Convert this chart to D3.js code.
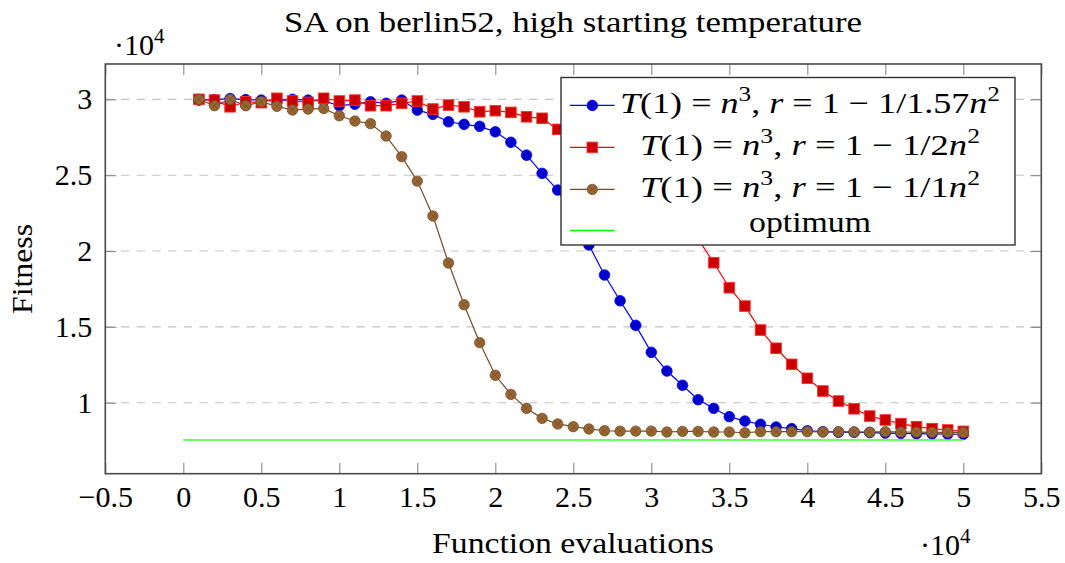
<!DOCTYPE html>
<html>
<head>
<meta charset="utf-8">
<script src="https://cdn.jsdelivr.net/npm/d3@7"></script>
<style>
  html, body { margin: 0; padding: 0; background: #fff; }
  svg { display: block; font-family: "Liberation Serif", "Times New Roman", serif; }
</style>
</head>
<body>
<svg id="chart" width="1065" height="563"></svg>
<script>
// Function evaluations at which fitness was recorded
const evaluations = [
  1000, 2000, 3000, 4000, 5000, 6000, 7000, 8000, 9000, 10000,
  11000, 12000, 13000, 14000, 15000, 16000, 17000, 18000, 19000, 20000,
  21000, 22000, 23000, 24000, 25000, 26000, 27000, 28000, 29000, 30000,
  31000, 32000, 33000, 34000, 35000, 36000, 37000, 38000, 39000, 40000,
  41000, 42000, 43000, 44000, 45000, 46000, 47000, 48000, 49000, 50000
];

// Tour length, cooling r = 1 - 1/1.57n^2
const fitnessR157 = [
  29950, 29980, 30050, 29980, 29950, 29900, 30000, 29950, 29900, 29580,
  29680, 29840, 29740, 29950, 29290, 29010, 28520, 28350, 28220, 27860,
  27170, 26320, 25120, 24020, 22300, 20400, 18420, 16720, 15100, 13320,
  12090, 11150, 10200, 9630, 9080, 8790, 8580, 8400, 8290, 8150,
  8090, 8060, 8050, 8030, 8000, 7980, 7960, 7950, 7930, 7920
];

// Tour length, cooling r = 1 - 1/2n^2
const fitnessR2 = [
  30000, 29950, 29510, 29840, 29780, 30070, 29890, 29800, 30070, 29890,
  29950, 29580, 29580, 29740, 29890, 29360, 29620, 29510, 29180, 29250,
  29140, 28850, 28750, 28020, 27600, 27100, 26500, 25800, 25000, 24000,
  23000, 21900, 20800, 19230, 17580, 16370, 14790, 13590, 12530, 11610,
  10770, 10110, 9600, 9120, 8860, 8620, 8420, 8290, 8200, 8110
];

// Tour length, cooling r = 1 - 1/1n^2
const fitnessR1 = [
  30000, 29580, 30000, 29580, 29840, 29540, 29300, 29360, 29400, 28920,
  28570, 28400, 27580, 26220, 24610, 22310, 19210, 16460, 13960, 11810,
  10550, 9630, 8970, 8600, 8420, 8270, 8150, 8130, 8130, 8130,
  8070, 8110, 8110, 8070, 8070, 8020, 8090, 8090, 8090, 8090,
  8070, 8090, 8080, 8060, 8090, 8070, 8060, 8050, 8050, 8040
];

// Known optimal tour length for berlin52
const optimumFitness = 7542;
const optimumRange = [0, 50000];

const xTickValues = [-5000, 0, 5000, 10000, 15000, 20000, 25000, 30000, 35000, 40000, 45000, 50000, 55000];
const yTickValues = [10000, 15000, 20000, 25000, 30000];

const legendLabels = [
  [["T", "i"], ["(1) = ", ""], ["n", "i"], ["3", "sup"], [", ", ""], ["r", "i"], [" = 1 \u2212 1/1.57", ""], ["n", "i"], ["2", "sup"]],
  [["T", "i"], ["(1) = ", ""], ["n", "i"], ["3", "sup"], [", ", ""], ["r", "i"], [" = 1 \u2212 1/2", ""], ["n", "i"], ["2", "sup"]],
  [["T", "i"], ["(1) = ", ""], ["n", "i"], ["3", "sup"], [", ", ""], ["r", "i"], [" = 1 \u2212 1/1", ""], ["n", "i"], ["2", "sup"]],
  [["optimum", ""]]
];
// typeset widths of the legend entries
const legendWidths = [380, 340, 340, 122];

const svg = d3.select("#chart");
const FS = 30;

const x = d3.scaleLinear().domain([-5000, 55000]).range([105.3, 1041.3]);
const y = d3.scaleLinear().domain([5320, 32330]).range([473.7, 64]);

const fmt = v => {
  const s = d3.format("~g")(v / 10000);
  return s.replace("-", "\u2212");
};

// dashed horizontal grid
svg.append("g")
  .selectAll("line")
  .data(yTickValues)
  .join("line")
  .attr("x1", x.range()[0]).attr("x2", x.range()[1])
  .attr("y1", d => y(d)).attr("y2", d => y(d))
  .attr("stroke", "#c4c4c4").attr("stroke-width", 1.1)
  .attr("stroke-dasharray", "8.3,7.4");

function styleAxis(g, showLabels) {
  g.select(".domain").remove();
  g.selectAll(".tick line").attr("stroke", "#8a8a8a").attr("stroke-width", 1.1);
  g.selectAll(".tick text")
    .attr("fill", "#000")
    .attr("font-size", FS)
    .attr("font-family", "Liberation Serif, serif");
  if (!showLabels) g.selectAll(".tick text").remove();
}

const T = 11;
svg.append("g").attr("transform", `translate(0,${y.range()[0]})`)
  .call(d3.axisBottom(x).tickValues(xTickValues).tickSize(-T).tickPadding(12).tickFormat(fmt))
  .call(g => styleAxis(g, true));
svg.append("g").attr("transform", `translate(0,${y.range()[1]})`)
  .call(d3.axisTop(x).tickValues(xTickValues).tickSize(-T).tickFormat(""))
  .call(g => styleAxis(g, false));
svg.append("g").attr("transform", `translate(${x.range()[0]},0)`)
  .call(d3.axisLeft(y).tickValues(yTickValues).tickSize(-T).tickPadding(13).tickFormat(fmt))
  .call(g => styleAxis(g, true));
svg.append("g").attr("transform", `translate(${x.range()[1]},0)`)
  .call(d3.axisRight(y).tickValues(yTickValues).tickSize(-T).tickFormat(""))
  .call(g => styleAxis(g, false));

// series
const series = [
  { values: fitnessR157, line: "#0000ff", fill: "#0000cc", stroke: "#0000ff", mark: "circle" },
  { values: fitnessR2,   line: "#ff0000", fill: "#cc0000", stroke: "#ff3030", mark: "square" },
  { values: fitnessR1,   line: "#734d26", fill: "#996633", stroke: "#734d26", mark: "otimes" }
];

const lineGen = d3.line().x(d => x(d[0])).y(d => y(d[1]));

function drawMark(g, type, fill, stroke) {
  if (type === "circle") {
    g.append("circle").attr("r", 5.3).attr("fill", fill).attr("stroke", stroke).attr("stroke-width", 0.8);
  } else if (type === "square") {
    g.append("rect").attr("x", -5.3).attr("y", -5.3).attr("width", 10.6).attr("height", 10.6)
      .attr("fill", fill).attr("stroke", stroke).attr("stroke-width", 0.9);
  } else {
    const r = 5.2, k = r * Math.SQRT1_2;
    g.append("circle").attr("r", r).attr("fill", fill).attr("stroke", stroke).attr("stroke-width", 0.8);
    g.append("path").attr("d", `M${-k},${-k}L${k},${k}M${-k},${k}L${k},${-k}`)
      .attr("stroke", stroke).attr("stroke-width", 0.8).attr("fill", "none");
  }
}

series.forEach(s => {
  const pts = evaluations.map((e, i) => [e, s.values[i]]);
  const g = svg.append("g");
  g.append("path").attr("d", lineGen(pts)).attr("fill", "none")
    .attr("stroke", s.line).attr("stroke-width", 1.2);
  pts.forEach(p => {
    const m = g.append("g").attr("transform", `translate(${x(p[0])},${y(p[1])})`);
    drawMark(m, s.mark, s.fill, s.stroke);
  });
});

// optimum line
svg.append("line")
  .attr("x1", x(optimumRange[0])).attr("x2", x(optimumRange[1]))
  .attr("y1", y(optimumFitness)).attr("y2", y(optimumFitness))
  .attr("stroke", "#33ff33").attr("stroke-width", 1.6);

// frame
svg.append("rect")
  .attr("x", x.range()[0]).attr("y", y.range()[1])
  .attr("width", x.range()[1] - x.range()[0]).attr("height", y.range()[0] - y.range()[1])
  .attr("fill", "none").attr("stroke", "#4a4a4a").attr("stroke-width", 1.6);

// legend
const lg = svg.append("g");
lg.append("rect").attr("x", 561).attr("y", 77.5).attr("width", 454).attr("height", 167.5)
  .attr("fill", "#fff").attr("stroke", "#333").attr("stroke-width", 1.4);

const rowY = [105.4, 147.4, 189.4, 230.5];
const rowBaseline = [8, 8, 8, 1];
const legendStyles = [series[0], series[1], series[2], { line: "#00ff00", mark: null }];

function richText(sel, parts) {
  let raised = false;
  parts.forEach(([t, kind]) => {
    const ts = sel.append("tspan").text(t);
    if (kind === "i") ts.attr("font-style", "italic");
    if (kind === "sup") {
      ts.attr("font-size", FS * 0.7).attr("dy", -FS * 0.4);
      raised = true;
    } else if (raised) {
      ts.attr("dy", FS * 0.4);
      raised = false;
    }
  });
}

legendStyles.forEach((s, i) => {
  const cy = rowY[i];
  lg.append("line").attr("x1", 570).attr("x2", 614.6).attr("y1", cy).attr("y2", cy)
    .attr("stroke", s.line).attr("stroke-width", s.mark ? 1.2 : 1.6);
  if (s.mark) {
    const m = lg.append("g").attr("transform", `translate(592.3,${cy})`);
    drawMark(m, s.mark, s.fill, s.stroke);
  }
  const t = lg.append("text").attr("x", 810 - legendWidths[i] / 2).attr("y", cy + rowBaseline[i])
    .attr("font-size", FS)
    .attr("textLength", legendWidths[i]).attr("lengthAdjust", "spacingAndGlyphs");
  richText(t, legendLabels[i]);
});

// title and axis labels
svg.append("text").attr("x", 573 - 289).attr("y", 32)
  .attr("font-size", FS).attr("textLength", 578).attr("lengthAdjust", "spacingAndGlyphs")
  .text("SA on berlin52, high starting temperature");

svg.append("text").attr("x", 573 - 141).attr("y", 553)
  .attr("font-size", FS).attr("textLength", 282).attr("lengthAdjust", "spacingAndGlyphs")
  .text("Function evaluations");

svg.append("text").attr("transform", "translate(32,269) rotate(-90)")
  .attr("x", -45).attr("font-size", FS).attr("textLength", 90).attr("lengthAdjust", "spacingAndGlyphs")
  .text("Fitness");

// scale multipliers
function multiplier(xPos, yPos) {
  const t = svg.append("text").attr("x", xPos).attr("y", yPos).attr("font-size", FS);
  t.append("tspan").text("\u00b710");
  t.append("tspan").attr("font-size", FS * 0.7).attr("dy", -FS * 0.4).text("4");
}
multiplier(114, 55);
multiplier(920, 555);
</script>
</body>
</html>
